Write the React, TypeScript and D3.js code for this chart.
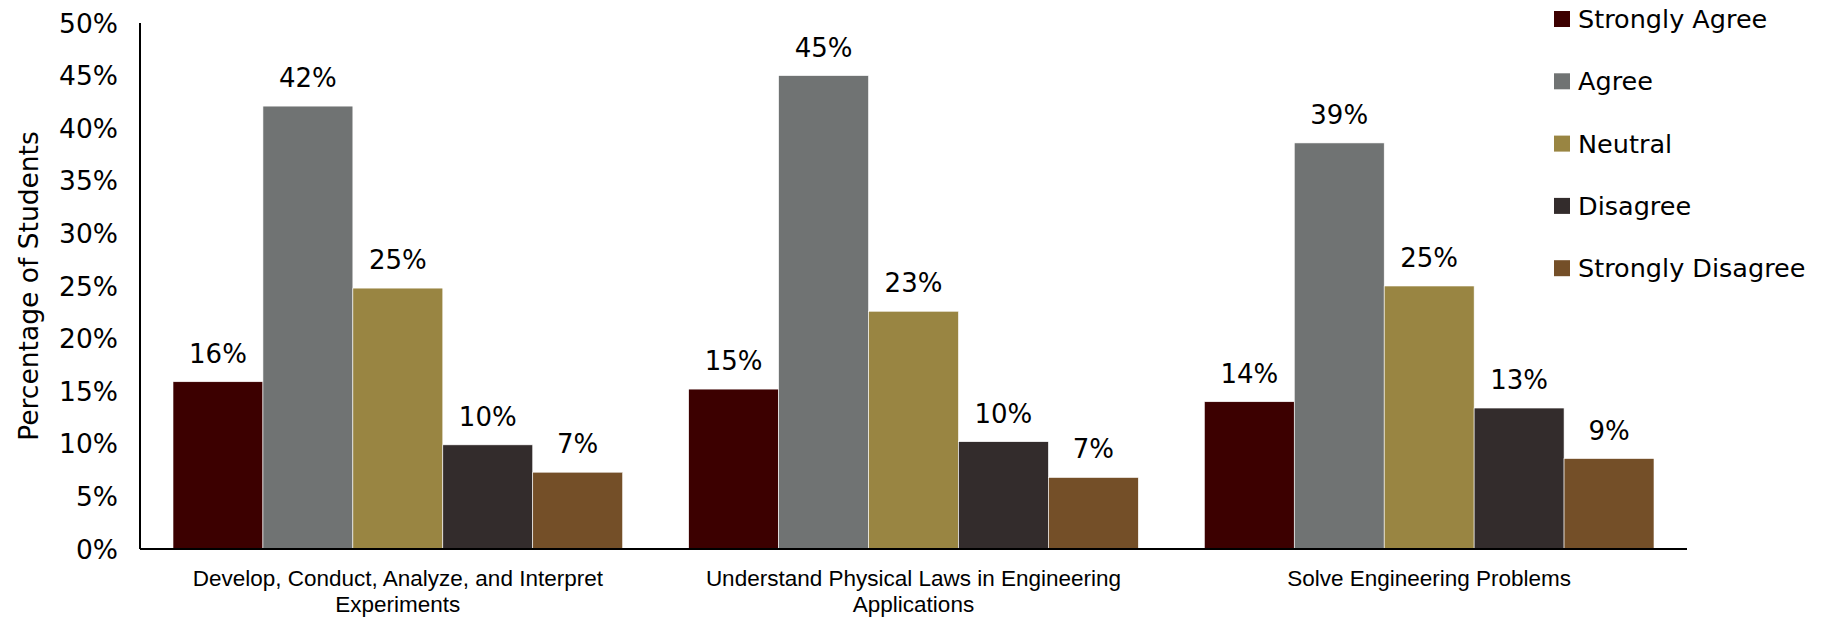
import React from "react";
import * as d3 from "d3";

const categories = [
  ["Develop, Conduct, Analyze, and Interpret", "Experiments"],
  ["Understand Physical Laws in Engineering", "Applications"],
  ["Solve Engineering Problems"],
];
const seriesNames = ["Strongly Agree", "Agree", "Neutral", "Disagree", "Strongly Disagree"];
const seriesColors = ["#3C0000", "#707373", "#998542", "#332C2C", "#744F28"];
const stronglyAgree = [0.159, 0.152, 0.140];
const agree = [0.421, 0.450, 0.386];
const neutral = [0.248, 0.226, 0.250];
const disagree = [0.099, 0.102, 0.134];
const stronglyDisagree = [0.073, 0.068, 0.086];
const yTicks = [0, 0.05, 0.1, 0.15, 0.2, 0.25, 0.3, 0.35, 0.4, 0.45, 0.5];

const W = 1829;
const H = 617;
const FONT = "'Liberation Sans', Arial, sans-serif";
const WIDE = "'DejaVu Sans', Verdana, sans-serif";

export default function App() {
  const series = [stronglyAgree, agree, neutral, disagree, stronglyDisagree];
  const x0 = d3
    .scaleBand<number>()
    .domain(categories.map((_, i) => i))
    .range([140, 1687])
    .paddingInner(0.128)
    .paddingOuter(0.064);
  const x1 = d3
    .scaleBand<number>()
    .domain(seriesNames.map((_, i) => i))
    .range([0, x0.bandwidth()])
    .padding(0);
  const y = d3.scaleLinear().domain([0, 0.5]).range([549, 23]);
  const fmt = d3.format(".0%");
  const [x0Min, x0Max] = x0.range();

  return (
    <svg
      width={W}
      height={H}
      style={{ position: "absolute", left: 0, top: 0, background: "#fff" }}
      fontFamily={FONT}
    >
      {/* y tick labels */}
      {yTicks.map((t) => (
        <text
          key={t}
          x={118}
          y={y(t)}
          textAnchor="end"
          dominantBaseline="central"
          fontSize={26.5}
          fontFamily={WIDE}
          fill="#000"
        >
          {fmt(t)}
        </text>
      ))}
      {/* y title */}
      <text
        transform={`translate(28,${(y(0) + y(0.5)) / 2}) rotate(-90)`}
        textAnchor="middle"
        dominantBaseline="central"
        fontSize={26.5}
        fontFamily={WIDE}
        fill="#000"
      >
        Percentage of Students
      </text>

      {/* bars */}
      {categories.map((_, ci) => (
        <g key={ci} transform={`translate(${x0(ci)},0)`}>
          {series.map((vals, si) => (
            <g key={si}>
              <rect
                x={x1(si)}
                y={y(vals[ci])}
                width={x1.bandwidth()}
                height={y(0) - y(vals[ci])}
                fill={seriesColors[si]}
                stroke="#ffffff"
                strokeWidth={0.6}
              />
              <text
                x={(x1(si) as number) + x1.bandwidth() / 2}
                y={y(vals[ci]) - 19}
                textAnchor="middle"
                fontSize={26}
                fontFamily={WIDE}
                fill="#000"
              >
                {fmt(vals[ci])}
              </text>
            </g>
          ))}
        </g>
      ))}

      {/* axes */}
      <line x1={140} x2={140} y1={y(0.5)} y2={y(0)} stroke="#000" strokeWidth={2} />
      <line x1={x0Min} x2={x0Max} y1={y(0)} y2={y(0)} stroke="#000" strokeWidth={2} />

      {/* category labels */}
      {categories.map((lines, ci) => (
        <text
          key={ci}
          x={(x0(ci) as number) + x0.bandwidth() / 2}
          y={580}
          textAnchor="middle"
          fontSize={22.5}
          fill="#000"
        >
          {lines.map((ln, li) => (
            <tspan key={li} x={(x0(ci) as number) + x0.bandwidth() / 2} dy={li === 0 ? 6 : 26}>
              {ln}
            </tspan>
          ))}
        </text>
      ))}

      {/* legend */}
      {seriesNames.map((name, si) => (
        <g key={name} transform={`translate(1554,${19 + si * 62.3})`}>
          <rect x={0} y={-8} width={16} height={16} fill={seriesColors[si]} />
          <text x={24} y={0} dominantBaseline="central" fontSize={25.5} fontFamily={WIDE} fill="#000">
            {name}
          </text>
        </g>
      ))}
    </svg>
  );
}
